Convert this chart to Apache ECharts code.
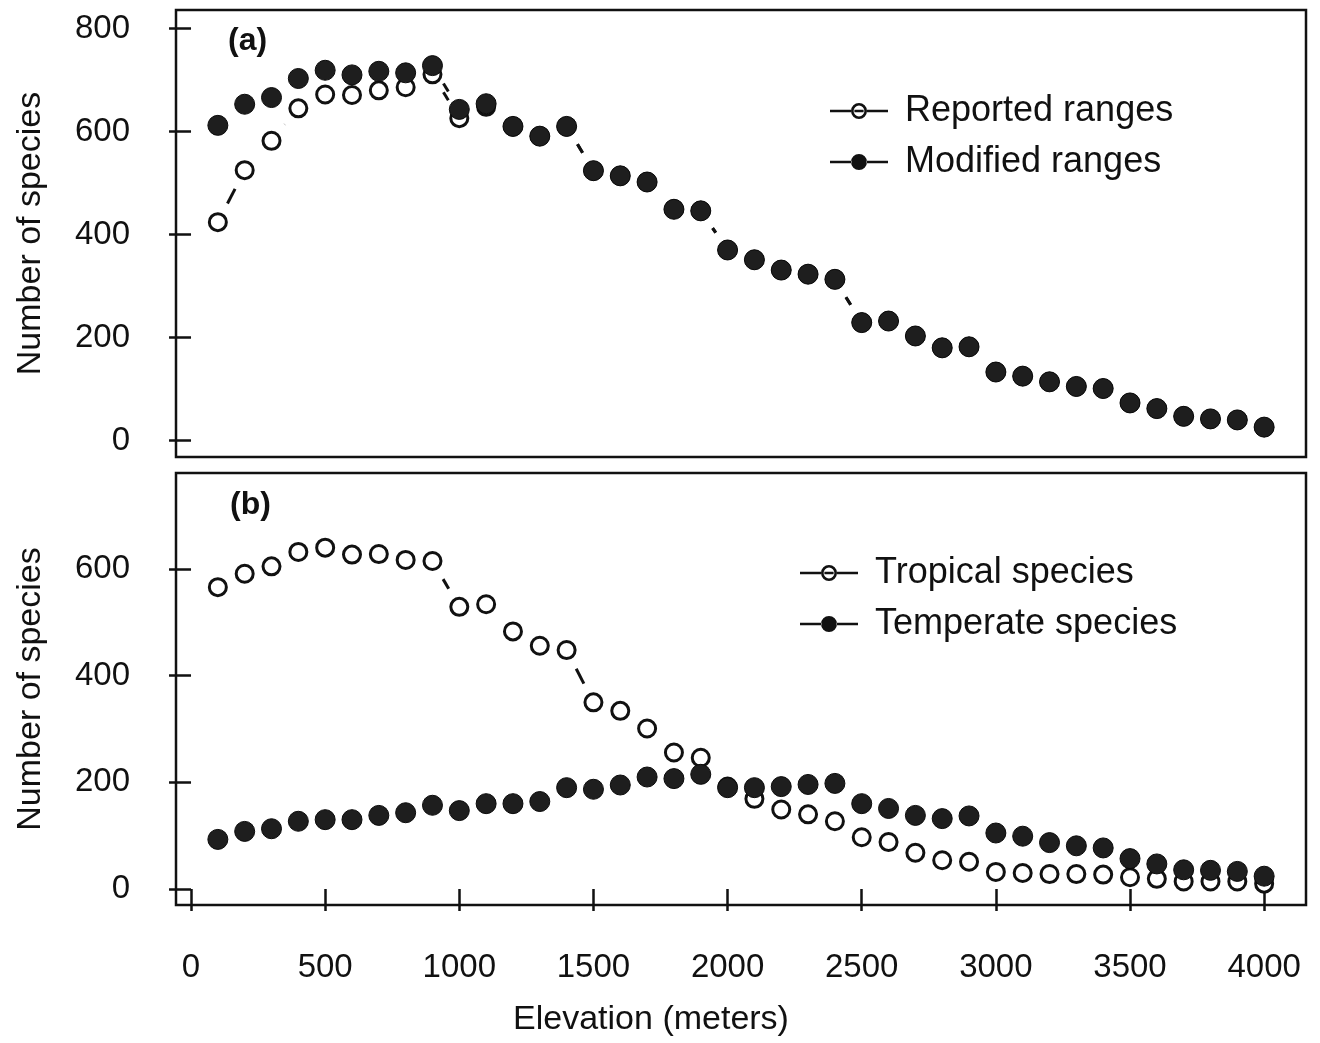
<!DOCTYPE html>
<html><head><meta charset="utf-8">
<script src="https://cdn.jsdelivr.net/npm/echarts@6/dist/echarts.min.js"></script>
<style>html,body{margin:0;padding:0;background:#fff}#chart{width:1320px;height:1043px}</style>
</head><body><div id="chart"></div>
<script>
// ---------- data ----------
const elevation = [100,200,300,400,500,600,700,800,900,1000,1100,1200,1300,1400,1500,1600,1700,1800,1900,2000,
                   2100,2200,2300,2400,2500,2600,2700,2800,2900,3000,3100,3200,3300,3400,3500,3600,3700,3800,3900,4000];
const reportedRanges = [424,525,582,645,672,671,680,686,711,626,648,610,591,610,524,514,502,449,446,370,
                        351,331,323,313,229,232,203,180,182,133,125,114,105,101,73,62,47,42,40,26];
const modifiedRanges = [612,653,666,703,719,710,717,714,728,643,654,610,591,610,524,514,502,449,446,370,
                        351,331,323,313,229,232,203,180,182,133,125,114,105,101,73,62,47,42,40,26];
const tropicalSpecies = [566,591,605,632,640,627,628,617,615,529,534,483,456,448,350,334,301,256,246,192,
                         169,149,140,127,97,88,68,54,51,32,30,28,28,27,22,19,14,14,14,10];
const temperateSpecies = [93,108,113,127,130,130,138,143,157,147,160,160,164,190,187,195,210,207,215,190,
                          190,192,196,198,160,151,138,132,137,105,99,87,81,77,57,47,36,35,33,24];
const xTicks = [0,500,1000,1500,2000,2500,3000,3500,4000];
const yTicksA = [0,200,400,600,800];
const yTicksB = [0,200,400,600];

// ---------- helpers ----------
const FONT = '"Liberation Sans", Arial, Helvetica, sans-serif';
const INK = '#111';
function pairs(ys){ return elevation.map((x,i)=>[x, ys[i]]); }
function segments(ys){
  const s=[];
  for(let i=0;i<elevation.length-1;i++) s.push([elevation[i],ys[i],elevation[i+1],ys[i+1]]);
  return s;
}
const GAP = 21; // R type="b" gap around points (px)
function renderGapLine(params, api){
  const p1 = api.coord([api.value(0), api.value(1)]);
  const p2 = api.coord([api.value(2), api.value(3)]);
  const dx=p2[0]-p1[0], dy=p2[1]-p1[1];
  const d=Math.hypot(dx,dy);
  if (d <= 2*GAP) return null;
  const ux=dx/d, uy=dy/d;
  return {type:'line', shape:{x1:p1[0]+ux*GAP, y1:p1[1]+uy*GAP, x2:p2[0]-ux*GAP, y2:p2[1]-uy*GAP},
          style:{stroke:INK, lineWidth:3}};
}
function lineSeries(ys, gi){
  return {type:'custom', xAxisIndex:gi, yAxisIndex:gi, data:segments(ys), renderItem:renderGapLine,
          encode:{x:[0,2], y:[1,3]}, silent:true, z:1, animation:false};
}
function openSeries(name, ys, gi){
  return {name, type:'scatter', xAxisIndex:gi, yAxisIndex:gi, data:pairs(ys), symbol:'circle', symbolSize:17,
          itemStyle:{color:'#fff', borderColor:INK, borderWidth:3, opacity:1}, emphasis:{disabled:true}, z:2};
}
function filledSeries(name, ys, gi){
  return {name, type:'scatter', xAxisIndex:gi, yAxisIndex:gi, data:pairs(ys), symbol:'circle', symbolSize:20,
          itemStyle:{color:'#1e1e1e', borderColor:'#0a0a0a', borderWidth:1, opacity:1}, emphasis:{disabled:true}, z:3};
}
const OPEN_ICON = 'path://M0,6.7L21,6.7L21,9.3L0,9.3Z M37,6.7L58,6.7L58,9.3L37,9.3Z M24.4,6.7L33.6,6.7L33.6,9.3L24.4,9.3Z M37,8A8,8 0 1,0 21,8A8,8 0 1,0 37,8Z M34.4,8A5.4,5.4 0 1,1 23.6,8A5.4,5.4 0 1,1 34.4,8Z';
const FILLED_ICON = 'path://M0,6.7L21.5,6.7L21.5,9.3L0,9.3Z M36.5,6.7L58,6.7L58,9.3L36.5,9.3Z M37,8A8,8 0 1,0 21,8A8,8 0 1,0 37,8Z';
function legendFor(names, left, top){
  return {orient:'vertical', left, top, itemWidth:58, itemHeight:16, itemGap:13, selectedMode:false,
          data:[{name:names[0], icon:OPEN_ICON, itemStyle:{color:INK, borderWidth:0}},
                {name:names[1], icon:FILLED_ICON, itemStyle:{color:INK, borderWidth:0}}],
          textStyle:{fontFamily:FONT, fontSize:36, color:INK, lineHeight:38, padding:[0,0,0,12]}};
}
const plain = v => String(v);
function yAxisFor(gi, min, max, ticks){
  return {gridIndex:gi, type:'value', min, max,
          axisLine:{show:false}, splitLine:{show:false},
          axisTick:{show:true, length:22, lineStyle:{color:INK, width:2.5}, customValues:ticks},
          axisLabel:{customValues:ticks, formatter:plain, fontSize:33, fontFamily:FONT, color:INK, margin:46},
          name:'Number of species', nameLocation:'middle', nameGap:128,
          nameTextStyle:{fontSize:34, fontFamily:FONT, color:INK}};
}

const chart = echarts.init(document.getElementById('chart'), null, {renderer:'canvas'});
chart.setOption({
  animation:false,
  backgroundColor:'#fff',
  grid:[
    {show:true, borderColor:INK, borderWidth:2.5, left:176, right:14, top:10, height:447},
    {show:true, borderColor:INK, borderWidth:2.5, left:176, right:14, top:473, height:432}
  ],
  xAxis:[
    {gridIndex:0, type:'value', min:-56, max:4156, axisLine:{show:false}, axisTick:{show:false},
     axisLabel:{show:false}, splitLine:{show:false}},
    {gridIndex:1, type:'value', min:-56, max:4156, axisLine:{show:false}, splitLine:{show:false},
     axisTick:{show:true, length:22, lineStyle:{color:INK, width:2.5}, customValues:xTicks},
     axisLabel:{customValues:xTicks, formatter:plain, fontSize:33, fontFamily:FONT, color:INK, margin:46},
     name:'Elevation (meters)', nameLocation:'middle', nameGap:98,
     nameTextStyle:{fontSize:34, fontFamily:FONT, color:INK, padding:[0,180,0,0]}}
  ],
  yAxis:[ yAxisFor(0, -32, 836, yTicksA), yAxisFor(1, -30, 780, yTicksB) ],
  legend:[
    legendFor(['Reported ranges','Modified ranges'], 825, 87),
    legendFor(['Tropical species','Temperate species'], 795, 549)
  ],
  graphic:[
    {type:'text', left:228, top:25, style:{text:'(a)', fontSize:32, fontWeight:'bold', fontFamily:FONT, fill:INK}},
    {type:'text', left:230, top:489, style:{text:'(b)', fontSize:32, fontWeight:'bold', fontFamily:FONT, fill:INK}}
  ],
  series:[
    lineSeries(reportedRanges,0), openSeries('Reported ranges', reportedRanges, 0),
    lineSeries(modifiedRanges,0), filledSeries('Modified ranges', modifiedRanges, 0),
    lineSeries(tropicalSpecies,1), openSeries('Tropical species', tropicalSpecies, 1),
    lineSeries(temperateSpecies,1), filledSeries('Temperate species', temperateSpecies, 1)
  ]
});
</script></body></html>
